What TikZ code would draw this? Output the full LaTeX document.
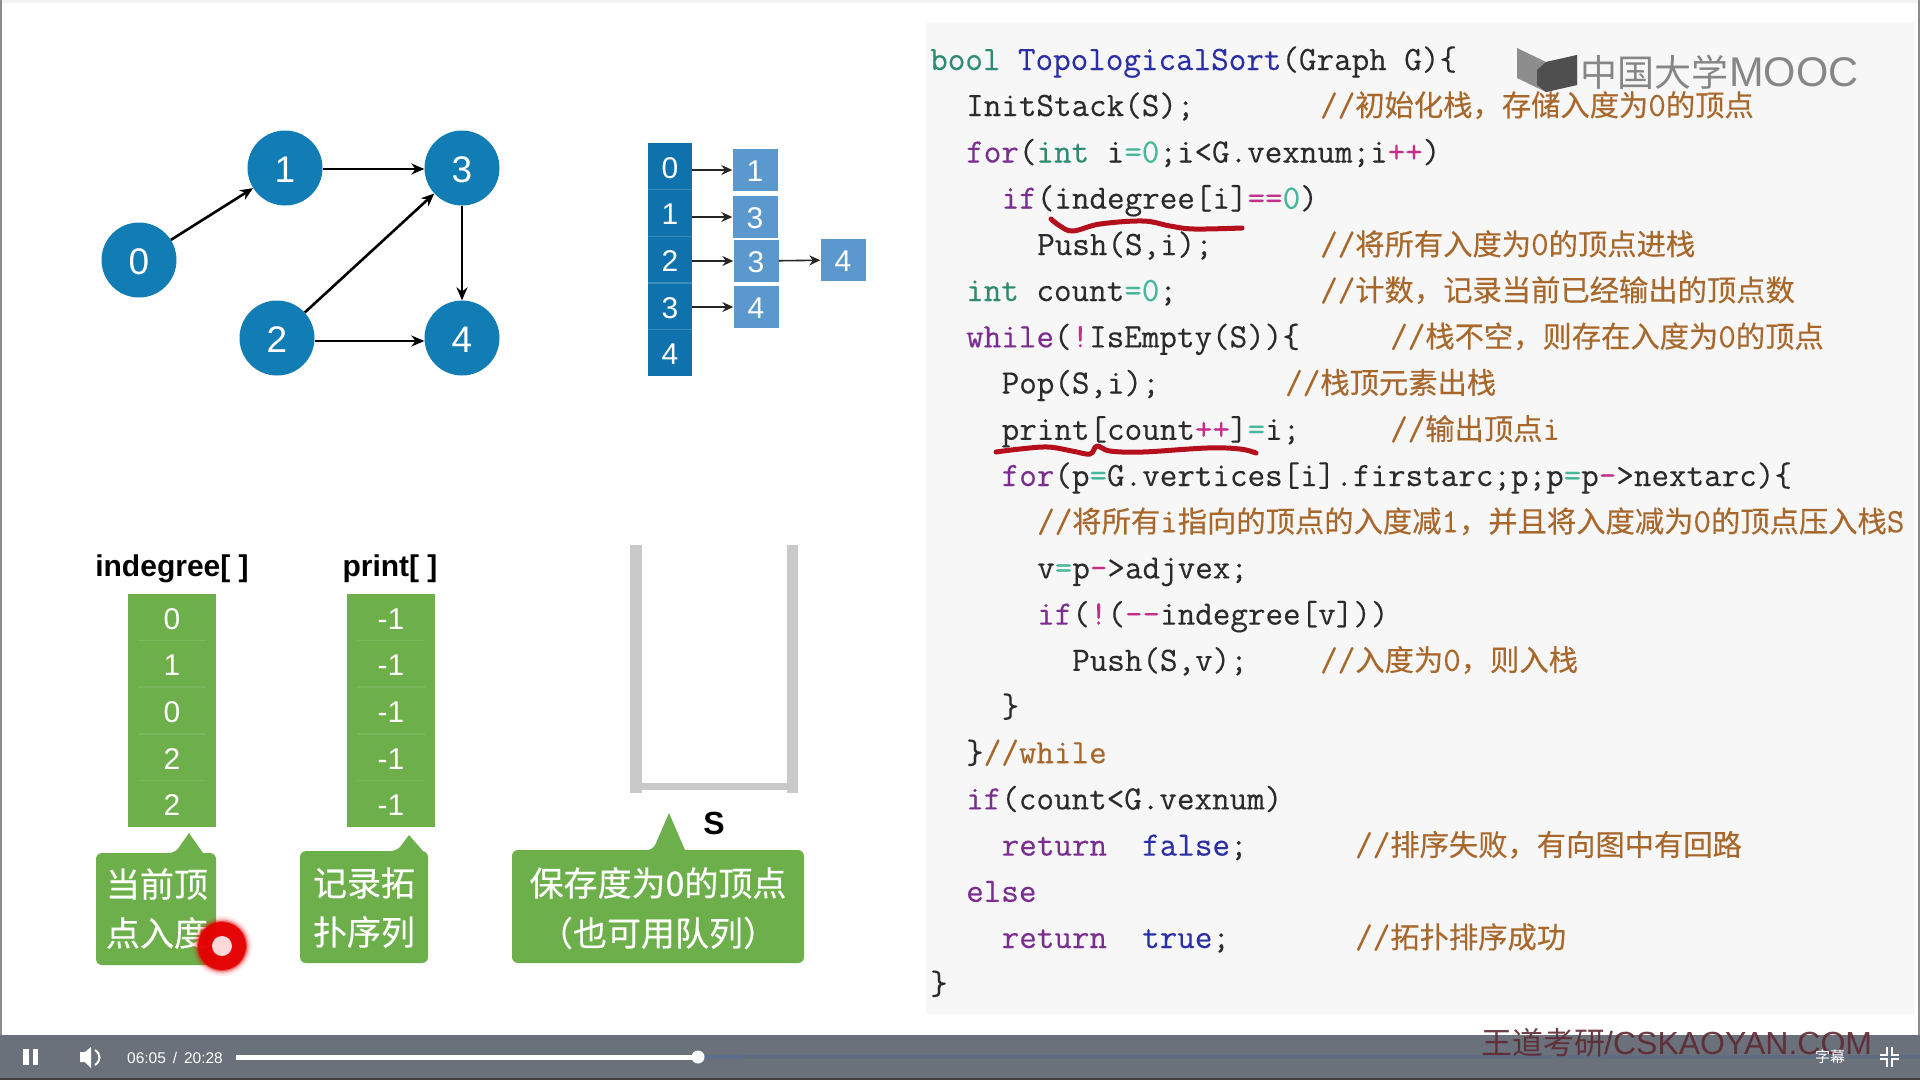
\documentclass[tikz,border=0pt]{standalone}
\usepackage{fontspec}
\usetikzlibrary{arrows.meta,shapes.geometric}
\setmainfont{Liberation Sans}
\newfontfamily\cjkf{Noto Sans CJK SC}
\newfontfamily\cjkb[FakeBold=0.35]{Noto Sans CJK SC}
\newfontfamily\codef[FakeBold=0.3,Ligatures=NoCommon]{Latin Modern Mono}
\definecolor{gblue}{HTML}{127CB5}
\definecolor{colblue}{HTML}{0F72AC}
\definecolor{lstblue}{HTML}{5B98CE}
\definecolor{arrgreen}{HTML}{6DAF4B}
\definecolor{sepgreen}{HTML}{7AB65A}
\definecolor{stackgray}{HTML}{C9C9C9}
\definecolor{panelgray}{HTML}{F7F7F7}
\definecolor{barcol}{HTML}{6A717A}
\definecolor{kwc}{HTML}{7A2E8F}
\definecolor{tyc}{HTML}{2F8C72}
\definecolor{fnc}{HTML}{2A2FA5}
\definecolor{opc}{HTML}{C2308A}
\definecolor{nmc}{HTML}{45B89C}
\definecolor{cmc}{HTML}{A8682C}
\definecolor{codec}{HTML}{2B2B2B}
\definecolor{inkred}{HTML}{B50F1E}
\definecolor{trackc}{HTML}{606C80}
\definecolor{bufc}{HTML}{5F6D8E}
\definecolor{wmred}{HTML}{5E2A33}
\newcommand{\cKw}[1]{\textcolor{kwc}{#1}}
\newcommand{\cTy}[1]{\textcolor{tyc}{#1}}
\newcommand{\cFn}[1]{\textcolor{fnc}{#1}}
\newcommand{\cOp}[1]{\textcolor{opc}{#1}}
\newcommand{\cNm}[1]{\textcolor{nmc}{#1}}
\newcommand{\cZh}[1]{{\cjkb\fontsize{29.3}{29.3}\selectfont #1}}
\newcommand{\cCm}[1]{\textcolor{cmc}{#1}}
\newcommand{\dn}[1]{\raisebox{-1.6pt}[\height][\depth]{#1}}
\tikzset{
  gv/.style={circle,fill=gblue,text=white,minimum size=75pt,inner sep=0,font=\fontsize{37}{37}\selectfont},
  garc/.style={draw=black,line width=2.6pt,-{Stealth[length=13pt,width=11pt]}},
  lst/.style={draw=black!85,line width=1.6pt,-{Stealth[length=11pt,width=10pt]}},
  colcell/.style={rectangle,fill=colblue,text=white,minimum width=44pt,minimum height=46.6pt,inner sep=0,font=\fontsize{30}{30}\selectfont},
  lstcell/.style={rectangle,fill=lstblue,text=white,minimum width=45pt,minimum height=42pt,inner sep=0,font=\fontsize{30}{30}\selectfont},
  arrcell/.style={rectangle,fill=arrgreen,text=white,minimum width=88pt,minimum height=46.6pt,inner sep=0,font=\fontsize{30}{30}\selectfont},
  head/.style={inner sep=0,text=black,font=\bfseries\fontsize{30}{30}\selectfont},
  bubble/.style={fill=arrgreen,rounded corners=6pt},
  zhwhite/.style={inner sep=0,text=white,font=\cjkb\fontsize{34}{34}\selectfont},
  code/.style={anchor=base west,inner sep=0,yshift=-1pt,text=codec,font=\codef\fontsize{34.1}{34.1}\selectfont},
  stackbar/.style={fill=stackgray,draw=none},
  ink/.style={draw=inkred,line width=5pt,line cap=round,line join=round},
}
\begin{document}
\begin{tikzpicture}[x=1pt,y=-1pt]
\useasboundingbox (0,0) rectangle (1920,1080);
\fill[white] (0,0) rectangle (1920,1080);
\fill[black!5] (0,0) rectangle (1920,3);
\fill[black!45] (0,0) rectangle (2,1035);
\fill[black!45] (1918,0) rectangle (1920,1035);
% code panel
\fill[panelgray] (926,22) rectangle (1915,1014);

% graph
\node[gv] (n0) at (139,260) {\dn{0}};
\node[gv] (n1) at (285,168) {\dn{1}};
\node[gv] (n3) at (462,168) {\dn{3}};
\node[gv] (n2) at (277,338) {\dn{2}};
\node[gv] (n4) at (462,338) {\dn{4}};
\draw[garc] (n0) -- (n1);
\draw[garc] ([yshift=-1pt]n1.east) -- ([yshift=-1pt]n3.west);
\draw[garc] (n2) -- (n3);
\draw[garc] ([yshift=-3pt]n2.east) -- ([yshift=-3pt]n4.west);
\draw[garc] (n3) -- (n4);

% adjacency list
\foreach \i in {0,...,4} {
  \node[colcell] (c\i) at (670,{166.3+46.6*\i}) {\dn{\i}};
  \ifnum\i>0 \fill[white,opacity=.18] (648,{143+46.6*\i-.7}) rectangle (692,{143+46.6*\i+.7}); \fi
}
\node[lstcell] (l0) at (755,170) {\dn{1}};
\node[lstcell] (l1) at (755,217) {\dn{3}};
\node[lstcell] (l2) at (756,261) {\dn{3}};
\node[lstcell] (l3) at (756,307) {\dn{4}};
\node[lstcell] (l4) at (843,260) {\dn{4}};
\draw[lst] (c0.east |- l0) -- (l0);
\draw[lst] (c1.east |- l1) -- (l1);
\draw[lst] (c2.east |- l2) -- (l2);
\draw[lst] (c3.east |- l3) -- (l3);
\draw[lst] (l2) -- (l4);

% headings
\node[head] (hi) at (172,569) {indegree[ ]};
\node[head] (hp) at (390,569) {print[ ]};

% arrays
\foreach \i/\v in {0/0,1/1,2/0,3/2,4/2} {
  \node[arrcell] (a\i) at (172,{617.3+46.6*\i}) {\dn{\v}};
  \node[arrcell] (p\i) at (391,{617.3+46.6*\i}) {\dn{-1}};
  \ifnum\i>0
    \fill[sepgreen] (138,{594+46.6*\i-.8}) rectangle (206,{594+46.6*\i+.8});
    \fill[sepgreen] (357,{594+46.6*\i-.8}) rectangle (425,{594+46.6*\i+.8});
  \fi
}

% stack
\fill[stackbar] (630,545) rectangle (642,793);
\fill[stackbar] (787,545) rectangle (798,793);
\fill[stackbar] (642,783) rectangle (787,790);
\node[inner sep=0,font=\bfseries\fontsize{32}{32}\selectfont] (sl) at (714,823) {S};

% callouts
\fill[bubble] (96,853) -- (175,853) [sharp corners] -- (189,833) -- (203,853) [rounded corners=6pt] -- (216,853) -- (216,965) -- (96,965) -- cycle;
\fill[bubble] (300,851) -- (397,851) [sharp corners] -- (409,835) -- (423,851) [rounded corners=6pt] -- (428,851) -- (428,963) -- (300,963) -- cycle;
\fill[bubble] (512,850) -- (653,850) [sharp corners] -- (669,813) -- (685,850) [rounded corners=6pt] -- (804,850) -- (804,963) -- (512,963) -- cycle;
\node[zhwhite] (t1a) at (157,884) {当前顶};
\node[zhwhite] (t1b) at (157,933) {点入度};
\node[zhwhite] (t2a) at (364,883) {记录拓};
\node[zhwhite] (t2b) at (364,932) {扑序列};
\node[zhwhite] (t3a) at (658,883) {保存度为0的顶点};
\node[zhwhite] (t3b) at (658,933) {（也可用队列）};

% pointer dot
\foreach \r/\o in {30/.08,28/.12,26.5/.25,25/.5,24/.9} \fill[red!90!black,opacity=\o] (222,946) circle (\r pt);
\fill[white!85!red] (222,946) circle (10pt);

% code
\node[code] (c01) at (930,69) {\cTy{bool} \cFn{TopologicalSort}(Graph G)\{};
\node[code] (c02) at (966,115) {InitStack(S);};
\node[code] (c03) at (966,161.5) {\cKw{for}(\cTy{int} i\cNm{=}\cNm{0};i<G.vexnum;i\cOp{++})};
\node[code] (c04) at (1001.5,207.7) {\cKw{if}(indegree[i]\cOp{==}\cNm{0})};
\node[code] (c05) at (1037,254) {Push(S,i);};
\node[code] (c06) at (966,300) {\cTy{int} count\cNm{=}\cNm{0};};
\node[code] (c07) at (966,346.3) {\cKw{while}(\cOp{!}IsEmpty(S))\{};
\node[code] (c08) at (1001.5,392.5) {Pop(S,i);};
\node[code] (c09) at (1001.5,438.8) {print[count\cOp{++}]\cNm{=}i;};
\node[code] (c10) at (1001.5,485) {\cKw{for}(p\cNm{=}G.vertices[i].firstarc;p;p\cNm{=}p\cOp{-}>nextarc)\{};
\node[code] (c11) at (1037,531.2) {\cCm{//\cZh{将所有}i\cZh{指向的顶点的入度减}1\cZh{，并且将入度减为}0\cZh{的顶点压入栈}S}};
\node[code] (c12) at (1037,577.4) {v\cNm{=}p\cOp{-}>adjvex;};
\node[code] (c13) at (1037,623.6) {\cKw{if}(\cOp{!}(\cOp{-{}-}indegree[v]))};
\node[code] (c14) at (1072,669.8) {Push(S,v);};
\node[code] (c15) at (1001.5,716) {\}};
\node[code] (c16) at (966,762.2) {\}\cCm{//while}};
\node[code] (c17) at (966,808.4) {\cKw{if}(count<G.vexnum)};
\node[code] (c18) at (1001.5,854.6) {\cKw{return}\ \ \cFn{false};};
\node[code] (c19) at (966,900.8) {\cKw{else}};
\node[code] (c20) at (1001.5,947) {\cKw{return}\ \ \cFn{true};};
\node[code] (c21) at (930,993.2) {\}};

% comments
\node[code] (m02) at (1320,115) {\cCm{//\cZh{初始化栈，存储入度为}0\cZh{的顶点}}};
\node[code] (m05) at (1320,254) {\cCm{//\cZh{将所有入度为}0\cZh{的顶点进栈}}};
\node[code] (m06) at (1320,300) {\cCm{//\cZh{计数，记录当前已经输出的顶点数}}};
\node[code] (m07) at (1390,346.3) {\cCm{//\cZh{栈不空，则存在入度为}0\cZh{的顶点}}};
\node[code] (m08) at (1285,392.5) {\cCm{//\cZh{栈顶元素出栈}}};
\node[code] (m09) at (1390,438.8) {\cCm{//\cZh{输出顶点}i}};
\node[code] (m14) at (1320,669.8) {\cCm{//\cZh{入度为}0\cZh{，则入栈}}};
\node[code] (m18) at (1355,854.6) {\cCm{//\cZh{排序失败，有向图中有回路}}};
\node[code] (m20) at (1355,947) {\cCm{//\cZh{拓扑排序成功}}};

% red underlines
\draw[ink] plot[smooth,tension=.6] coordinates {(1051,219) (1060,226) (1073,231) (1100,224) (1143,221) (1170,226) (1194,229) (1242,228)};
\draw[ink] plot[smooth,tension=.6] coordinates {(996,452) (1020,449) (1048,447) (1072,451) (1090,454) (1097,446) (1110,451) (1143,452) (1207,448) (1240,449) (1256,453)};

% control bar
\fill[barcol] (0,1035) rectangle (1920,1078);
\fill[black!75] (0,1078) rectangle (1920,1080);
\fill[white] (23,1049) rectangle (29,1065);
\fill[white] (33,1049) rectangle (38,1065);
\fill[white] (80,1052) -- (85,1052) -- (91,1047) -- (91,1068) -- (85,1062) -- (80,1062) -- cycle;
\draw[white,line width=2pt] (95,1050) .. controls (101,1054) and (101,1061) .. (95,1065);
\node[inner sep=0,text=white,font=\fontsize{15.5}{15.5}\selectfont] (tm) at (175,1057.5) {06:05 \,/\, 20:28};
\fill[trackc] (698,1055) rectangle (1920,1059);
\fill[bufc] (698,1055) rectangle (743,1059);
\fill[white] (236,1054.5) rectangle (698,1059.5);
\fill[white] (698,1057) circle (6.5pt);
\draw[white,line width=2.5pt] (1887,1047) -- (1887,1055) -- (1880,1055) (1892,1047) -- (1892,1055) -- (1899,1055) (1887,1067) -- (1887,1059) -- (1880,1059) (1892,1067) -- (1892,1059) -- (1899,1059);

% watermarks
\fill[black!55,opacity=.8] (1517,48) -- (1546,62) -- (1577,55) -- (1577,85) -- (1546,92) -- (1517,78) -- cycle;
\fill[black!75,opacity=.8] (1537,70) -- (1546,62) -- (1577,55) -- (1577,85) -- (1546,92) -- (1537,85) -- cycle;
\node[anchor=west,inner sep=0,text=black!55,opacity=.85,font=\cjkf\fontsize{37}{37}\selectfont] (wm1) at (1580,72) {中国大学};
\node[anchor=west,inner sep=0,text=black!55,opacity=.85,font=\fontsize{41.5}{41.5}\selectfont] (wm2) at (1729,72) {MOOC};
\node[anchor=west,inner sep=0,text=wmred,opacity=.9,font=\cjkf\fontsize{31}{31}\selectfont] (wm3) at (1481,1043) {王道考研};
\node[anchor=west,inner sep=0,text=wmred,opacity=.9,font=\fontsize{32}{32}\selectfont] (wm4) at (1604,1043) {/CSKAOYAN.COM};
\node[inner sep=0,text=white,font=\cjkf\fontsize{15}{15}\selectfont] (cc) at (1830,1057) {字幕};
\end{tikzpicture}
\end{document}
